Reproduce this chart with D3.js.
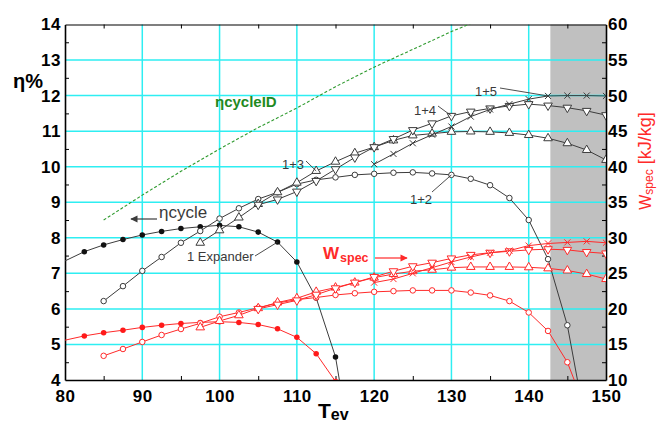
<!DOCTYPE html>
<html><head><meta charset="utf-8">
<script src="https://cdn.jsdelivr.net/npm/d3@7"></script>
<style>
body{margin:0;background:#fff}
svg{display:block}
text{font-family:"Liberation Sans",Arial,sans-serif}
</style>
</head><body>
<svg id="chart" width="657" height="425"></svg>
<script>
// Evaporation temperature grid (°C)
const temps = [80,82.5,85,87.5,90,92.5,95,97.5,100,102.5,105,107.5,110,112.5,115,117.5,120,122.5,125,127.5,130,132.5,135,137.5,140,142.5,145,147.5,150];

// Cycle efficiency η [%] for each expander configuration (null = not computed)
const eta1Exp = [7.35,7.61,7.80,7.95,8.08,8.18,8.26,8.31,8.35,8.31,8.16,7.88,7.32,6.31,4.65,1.4,null,null,null,null,null,null,null,null,null,null,null,null,null];
const eta12 = [null,null,6.22,6.64,7.07,7.46,7.86,8.19,8.54,8.83,9.09,9.28,9.51,9.63,9.70,9.77,9.80,9.83,9.84,9.81,9.77,9.66,9.48,9.12,8.50,7.40,5.54,2.6,null];
const eta13 = [null,null,null,null,null,null,null,7.86,8.21,8.57,8.95,9.28,9.55,9.88,10.14,10.38,10.55,10.74,10.88,10.93,10.98,10.99,10.98,10.95,10.89,10.80,10.66,10.47,10.19];
const eta14 = [null,null,null,null,null,null,null,null,null,null,8.93,9.08,9.30,9.60,9.93,10.26,10.55,10.78,11.03,11.22,11.43,11.55,11.64,11.71,11.76,11.72,11.66,11.57,11.45];
const eta15 = [null,null,null,null,null,null,null,null,null,null,null,null,null,null,null,null,10.07,10.36,10.66,10.90,11.13,11.41,11.61,11.76,11.90,11.99,12.00,12.00,11.99];

// Specific work w_spec [kJ/kg]
const w1Exp = [15.6,16.2,16.65,17.0,17.4,17.7,17.95,18.1,18.2,18.1,17.8,17.2,16.0,13.7,9.8,2.0,null,null,null,null,null,null,null,null,null,null,null,null,null];
const w12 = [null,null,13.4,14.36,15.35,16.33,17.17,17.97,18.9,19.5,20.17,20.83,21.3,21.6,21.96,22.2,22.4,22.5,22.6,22.6,22.6,22.3,21.9,21.1,19.5,16.9,12.5,5.5,null];
const w13 = [null,null,null,null,null,null,null,17.4,18.3,19.1,20.1,20.9,21.5,22.4,23.0,23.7,24.4,24.9,25.3,25.5,25.8,25.9,25.9,25.9,25.85,25.7,25.4,24.9,24.2];
const w14 = [null,null,null,null,null,null,null,null,null,null,20.0,20.6,21.2,22.0,22.9,23.7,24.5,25.3,26.0,26.5,27.1,27.6,27.9,28.1,28.3,28.4,28.3,28.0,27.8];
const w15 = [null,null,null,null,null,null,null,null,null,null,null,null,null,null,null,null,23.7,24.2,25.0,25.8,26.6,27.3,27.9,28.2,28.9,29.2,29.35,29.5,29.3];

// Ideal cycle efficiency
const idealTemps = [85,90,95,100,105,110,115,120,125,130,135];
const idealEta = [8.5,9.2,9.87,10.5,11.1,11.65,12.25,12.8,13.3,13.8,14.25];

// Axis ticks and shaded temperature range
const etaTicks = [4,5,6,7,8,9,10,11,12,13,14];
const wTicks = [10,15,20,25,30,35,40,45,50,55,60];
const tempTicks = [80,90,100,110,120,130,140,150];
const shadedRange = [142.8,150];

const svg = d3.select("#chart");
const L = 65, R = 606, T = 24.5, B = 380;
const x = d3.scaleLinear().domain([80,150]).range([L,R]);
const yL = d3.scaleLinear().domain([4,14]).range([B,T]);
const yR = d3.scaleLinear().domain([10,60]).range([B,T]);

const GRID = "#2eeef2", DARK = "#3c3c3c", RED = "#ff2a2a";

svg.append("defs").append("clipPath").attr("id","plot")
  .append("rect").attr("x",L).attr("y",T).attr("width",R-L).attr("height",B-T);
const defs = svg.select("defs");
function arrowHead(id, color){
  defs.append("marker").attr("id",id).attr("viewBox","0 0 10 10").attr("refX",9).attr("refY",5)
    .attr("markerWidth",7).attr("markerHeight",6).attr("orient","auto-start-reverse")
    .append("path").attr("d","M0,0L10,5L0,10Z").attr("fill",color);
}
arrowHead("arrDark", DARK);
arrowHead("arrRed", RED);

// shaded band
svg.append("rect").attr("x",x(shadedRange[0])).attr("y",T)
  .attr("width",x(shadedRange[1])-x(shadedRange[0])).attr("height",B-T).attr("fill","#c0c0c0");

// grid
const grid = svg.append("g");
grid.selectAll(".h").data(etaTicks.slice(1,-1)).join("line")
  .attr("x1",L).attr("x2",R).attr("y1",d=>yL(d)).attr("y2",d=>yL(d))
  .attr("stroke",GRID).attr("stroke-width",1.5);
grid.selectAll(".v").data(tempTicks.slice(1,-1)).join("line")
  .attr("y1",T).attr("y2",B).attr("x1",d=>x(d)).attr("x2",d=>x(d))
  .attr("stroke",GRID).attr("stroke-width",1.5);

// axes
const fontTick = g => g.selectAll("text").attr("font-family","Liberation Sans, Arial, sans-serif")
  .attr("font-weight","bold").attr("font-size",17).attr("fill","#000").attr("letter-spacing",0.5);

const gl = svg.append("g").attr("transform",`translate(${L},0)`)
  .call(d3.axisLeft(yL).tickValues(etaTicks).tickSize(0).tickPadding(4).tickFormat(d3.format("d")));
gl.select(".domain").attr("stroke","#000").attr("stroke-width",1.6);
fontTick(gl);

const gr = svg.append("g").attr("transform",`translate(${R},0)`)
  .call(d3.axisRight(yR).tickValues(wTicks).tickSize(0).tickPadding(2).tickFormat(d3.format("d")));
gr.select(".domain").attr("stroke","#000").attr("stroke-width",1.6);
fontTick(gr);

const gb = svg.append("g").attr("transform",`translate(0,${B})`)
  .call(d3.axisBottom(x).tickValues(tempTicks).tickSize(0).tickPadding(10).tickFormat(d3.format("d")));
gb.select(".domain").attr("stroke","#000").attr("stroke-width",1.6);
fontTick(gb);

const gt = svg.append("g").attr("transform",`translate(0,${T})`)
  .call(d3.axisTop(x).tickValues([]).tickSize(0));
gt.select(".domain").attr("stroke","#000").attr("stroke-width",1.2);

// minor ticks pointing inwards
const minorEta = d3.range(4.5,14,1), minorT = d3.range(85,150,10);
svg.append("g").attr("transform",`translate(${L},0)`).call(d3.axisRight(yL).tickValues(minorEta).tickSize(4).tickFormat(""))
  .call(g=>g.select(".domain").remove()).selectAll("line").attr("stroke","#000");
svg.append("g").attr("transform",`translate(${R},0)`).call(d3.axisLeft(yL).tickValues(minorEta).tickSize(4).tickFormat(""))
  .call(g=>g.select(".domain").remove()).selectAll("line").attr("stroke","#000");
svg.append("g").attr("transform",`translate(0,${T})`).call(d3.axisBottom(x).tickValues(minorT).tickSize(4).tickFormat(""))
  .call(g=>g.select(".domain").remove()).selectAll("line").attr("stroke","#000");
svg.append("g").attr("transform",`translate(0,${B})`).call(d3.axisTop(x).tickValues(minorT).tickSize(4).tickFormat(""))
  .call(g=>g.select(".domain").remove()).selectAll("line").attr("stroke","#000");

const plot = svg.append("g").attr("clip-path","url(#plot)");

// ideal efficiency (dashed)
plot.append("path").datum(idealTemps.map((t,i)=>[t,idealEta[i]]))
  .attr("d",d3.line().x(d=>x(d[0])).y(d=>yL(d[1])))
  .attr("fill","none").attr("stroke","#2e9a2e").attr("stroke-width",1.1).attr("stroke-dasharray","3,2");

const series = [
  {vals:eta1Exp, y:yL, color:DARK, mark:"filled"},
  {vals:eta12, y:yL, color:DARK, mark:"circle"},
  {vals:eta13, y:yL, color:DARK, mark:"up"},
  {vals:eta14, y:yL, color:DARK, mark:"down"},
  {vals:eta15, y:yL, color:DARK, mark:"x"},
  {vals:w1Exp, y:yR, color:RED, mark:"filled"},
  {vals:w12, y:yR, color:RED, mark:"circle"},
  {vals:w13, y:yR, color:RED, mark:"up"},
  {vals:w14, y:yR, color:RED, mark:"down"},
  {vals:w15, y:yR, color:RED, mark:"x"}
];

const symCircle = d3.symbol().type(d3.symbolCircle).size(24)();
const symTri = d3.symbol().type(d3.symbolTriangle).size(32)();
const symX = d3.symbol().type(d3.symbolX).size(26)();

series.forEach(s=>{
  const pts = temps.map((t,i)=>[t,s.vals[i]]).filter(d=>d[1]!==null);
  plot.append("path").datum(pts)
    .attr("d",d3.line().x(d=>x(d[0])).y(d=>s.y(d[1])))
    .attr("fill","none").attr("stroke",s.color).attr("stroke-width",1);
  const mp = pts.filter(d=>d[0]>temps[0]);
  const g = plot.append("g");
  const sel = g.selectAll("path").data(mp).join("path");
  if(s.mark==="filled"){
    sel.attr("d",symCircle).attr("fill",s.color===RED?"#ff1a1a":"#111").attr("stroke","none")
      .attr("transform",d=>`translate(${x(d[0])},${s.y(d[1])})`);
  } else if(s.mark==="circle"){
    sel.attr("d",symCircle).attr("fill","#fff").attr("stroke",s.color).attr("stroke-width",1)
      .attr("transform",d=>`translate(${x(d[0])},${s.y(d[1])})`);
  } else if(s.mark==="up"){
    sel.attr("d",symTri).attr("fill","#fff").attr("stroke",s.color).attr("stroke-width",1)
      .attr("transform",d=>`translate(${x(d[0])},${s.y(d[1])})`);
  } else if(s.mark==="down"){
    sel.attr("d",symTri).attr("fill","#fff").attr("stroke",s.color).attr("stroke-width",1)
      .attr("transform",d=>`translate(${x(d[0])},${s.y(d[1])}) rotate(180)`);
  } else {
    sel.attr("d",symX).attr("fill","none").attr("stroke",s.color).attr("stroke-width",1)
      .attr("transform",d=>`translate(${x(d[0])},${s.y(d[1])})`);
  }
});

// annotations
const ann = svg.append("g");
const labelColor = "#3a3a3a";
function leader(x1,y1,t,vals,scale){
  const i = temps.indexOf(t);
  ann.append("line").attr("x1",x1).attr("y1",y1).attr("x2",x(t)).attr("y2",scale(vals[i]))
    .attr("stroke",labelColor).attr("stroke-width",0.9);
}
ann.append("text").attr("x",215).attr("y",107).attr("font-size",15).attr("font-weight","bold")
  .attr("fill","#1f8a1f").text("ηcycleID");

ann.append("text").attr("x",159).attr("y",218).attr("font-size",17).attr("fill",labelColor).text("ηcycle");
ann.append("line").attr("x1",157).attr("y1",219).attr("x2",131).attr("y2",219)
  .attr("stroke",DARK).attr("stroke-width",1.2).attr("marker-end","url(#arrDark)");

ann.append("text").attr("x",187).attr("y",261).attr("font-size",13).attr("fill",labelColor).text("1 Expander");
leader(255,256,107.5,eta1Exp,yL);

ann.append("text").attr("x",410).attr("y",204).attr("font-size",13).attr("fill",labelColor).text("1+2");
leader(432,192,130,eta12,yL);
ann.append("text").attr("x",282).attr("y",169).attr("font-size",13).attr("fill",labelColor).text("1+3");
leader(306,161,112.5,eta13,yL);
ann.append("text").attr("x",414).attr("y",115).attr("font-size",13).attr("fill",labelColor).text("1+4");
leader(438,106,130,eta14,yL);
ann.append("text").attr("x",475).attr("y",96).attr("font-size",13).attr("fill",labelColor).text("1+5");
leader(500,88,142.5,eta15,yL);

const ws = ann.append("text").attr("x",323).attr("y",259).attr("fill",RED).attr("font-weight","bold");
ws.append("tspan").attr("font-size",17).text("W");
ws.append("tspan").attr("font-size",12.5).attr("dy",2.5).attr("dx",1).text("spec");
ann.append("line").attr("x1",375).attr("y1",258).attr("x2",407).attr("y2",258)
  .attr("stroke",RED).attr("stroke-width",1.2).attr("marker-end","url(#arrRed)");

// axis titles
svg.append("text").attr("x",13).attr("y",88).attr("font-size",20).attr("font-weight","bold").text("η%");

const tev = svg.append("text").attr("x",318).attr("y",418).attr("font-weight","bold");
tev.append("tspan").attr("font-size",21).text("T");
tev.append("tspan").attr("font-size",16).attr("dy",2).text("ev");

const wl = svg.append("text").attr("transform","translate(651,161) rotate(-90)")
  .attr("text-anchor","middle").attr("fill",RED);
wl.append("tspan").attr("font-size",16).text("W");
wl.append("tspan").attr("font-size",12).attr("dy",2).text("spec");
wl.append("tspan").attr("font-size",18).attr("dy",-2).text(" [kJ/kg]");
</script>
</body></html>
